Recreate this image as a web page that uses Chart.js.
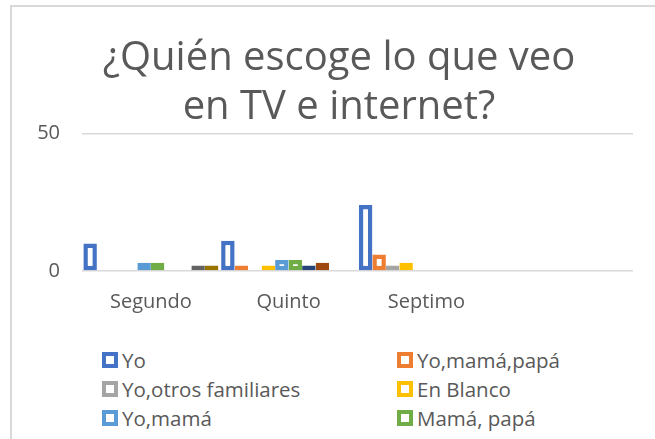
<!DOCTYPE html>
<html lang="es">
<head>
    <meta charset="UTF-8">
    <title>¿Quién escoge lo que veo en TV e internet?</title>
    <script src="https://cdn.jsdelivr.net/npm/chart.js"></script>
    <style>
        html, body { margin: 0; padding: 0; background: #fff; }
        #wrap { position: relative; width: 655px; height: 439px; overflow: hidden; }
        #frame { position: absolute; left: 10px; top: 5px; width: 720px; height: 520px; border: 2px solid #d9d9d9; box-sizing: border-box; }
        #chartBox { position: absolute; left: 0; top: 0; width: 680px; height: 333px; }
        #legend { position: absolute; left: 102px; top: 345px; height: 87px; overflow: hidden; display: grid; grid-template-columns: 295px 295px; grid-auto-rows: 29px; font-family: 'Open Sans', sans-serif; font-size: 20.5px; color: #595959; }
        .item { display: flex; align-items: center; height: 29px; white-space: nowrap; }
        .box { width: 16px; height: 16px; box-sizing: border-box; border: 4.5px solid; background: #fff; margin-right: 4px; flex: none; }
    </style>
</head>
<body>
    <div id="wrap">
        <div id="frame"></div>
        <div id="chartBox"><canvas id="chart"></canvas></div>
        <div id="legend"></div>
    </div>

    <script>
        // categories (4th slot is empty in the original)
        const categories = ['Segundo', 'Quinto', 'Septimo', ''];
        const seriesNames = ['Yo', 'Yo,mamá,papá', 'Yo,otros familiares', 'En Blanco', 'Yo,mamá', 'Mamá, papá', 'Mamá', 'Papá', 'Otros familiares', 'Yo,papá'];
        const seriesColors = ['#4472C4', '#ED7D31', '#A5A5A5', '#FFC000', '#5B9BD5', '#70AD47', '#264478', '#9E480E', '#636363', '#997300'];

        // values per series, one entry per category
        const yo = [10, 11, 24, null];
        const yoMamaPapa = [null, 2, 6, null];
        const yoOtros = [null, null, 2, null];
        const enBlanco = [null, 2, 3, null];
        const yoMama = [3, 4, null, null];
        const mamaPapa = [3, 4, null, null];
        const mama = [null, 2, null, null];
        const papa = [null, 3, null, null];
        const otros = [2, null, null, null];
        const yoPapa = [2, null, null, null];
        const seriesValues = [yo, yoMamaPapa, yoOtros, enBlanco, yoMama, mamaPapa, mama, papa, otros, yoPapa];

        const yTicks = [0, 50];

        const datasets = seriesNames.map((name, i) => ({
            label: name,
            data: seriesValues[i],
            backgroundColor: '#ffffff',
            borderColor: seriesColors[i],
            borderWidth: 4.5,
            borderSkipped: false,
            barPercentage: 1,
            categoryPercentage: 0.98
        }));

        const font = "'Open Sans', sans-serif";

        // the title sits centred on the whole frame, a bit left of the plot centre
        const shiftTitle = {
            id: 'shiftTitle',
            afterLayout(chart) {
                if (chart.titleBlock) chart.titleBlock.left += 15;
            }
        };

        new Chart(document.getElementById('chart'), {
            type: 'bar',
            data: { labels: categories, datasets: datasets },
            plugins: [shiftTitle],
            options: {
                responsive: true,
                maintainAspectRatio: false,
                animation: false,
                layout: { padding: { left: 30, right: 47, top: 34, bottom: 0 } },
                plugins: {
                    legend: { display: false },
                    tooltip: { enabled: false },
                    title: {
                        display: true,
                        text: ['¿Quién escoge lo que veo', 'en TV e internet?'],
                        color: '#595959',
                        font: { family: font, size: 40, weight: 'normal', lineHeight: 1.22 },
                        padding: { top: 0, bottom: 2 }
                    }
                },
                scales: {
                    x: {
                        grid: { display: false, drawTicks: false },
                        border: { display: false },
                        ticks: { color: '#595959', font: { family: font, size: 20 }, padding: 19 }
                    },
                    y: {
                        min: yTicks[0],
                        max: yTicks[yTicks.length - 1],
                        afterBuildTicks: axis => { axis.ticks = yTicks.map(v => ({ value: v })); },
                        afterFit: axis => { axis.width = 52; },
                        grid: { color: '#d9d9d9', lineWidth: 1.5, drawTicks: false },
                        border: { display: false },
                        ticks: { color: '#595959', font: { family: font, size: 20 }, padding: 22 }
                    }
                }
            }
        });

        // legend: two columns, rows below the third fall outside the picture like in the original
        const legend = document.getElementById('legend');
        seriesNames.forEach((name, i) => {
            const item = document.createElement('div');
            item.className = 'item';
            const box = document.createElement('span');
            box.className = 'box';
            box.style.borderColor = seriesColors[i];
            const txt = document.createElement('span');
            txt.textContent = name;
            item.appendChild(box);
            item.appendChild(txt);
            legend.appendChild(item);
        });
    </script>
</body>
</html>
